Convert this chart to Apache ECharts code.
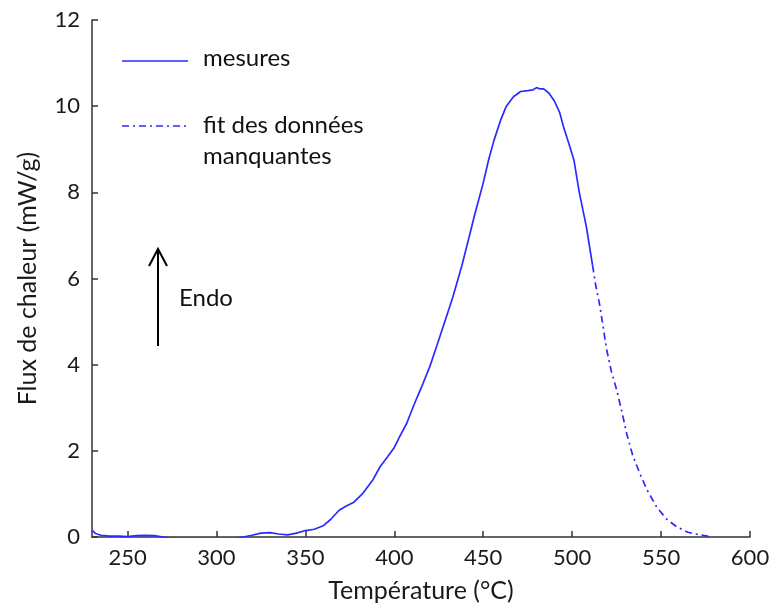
<!DOCTYPE html>
<html>
<head>
<meta charset="utf-8">
<script src="https://cdn.jsdelivr.net/npm/echarts@6/dist/echarts.min.js"></script>
<style>html,body{margin:0;padding:0;background:#fff}#c{width:778px;height:608px}</style>
</head>
<body>
<div id="c"></div>
<script>
// Temperature (°C) and heat flux (mW/g) — measured part
const measuredT = [230,232,235,240,245,250,255,260,265,270,275,280,290,300,310,315,320,325,330,335,340,345,350,355,360,364,369,373,377,382,388,392,396,400,403,407,410,413,416,420,424,428,433,438,442,445,450,453,456,460,463,467,471,475,478,480,482,484,487,490,493,495,498,501,504,508,511.5];
const measuredFlux = [0.16,0.08,0.04,0.02,0.02,0.01,0.03,0.04,0.03,0.0,-0.03,-0.03,-0.03,-0.03,-0.03,0.0,0.04,0.09,0.10,0.07,0.05,0.09,0.15,0.18,0.26,0.40,0.62,0.72,0.80,1.00,1.33,1.63,1.85,2.08,2.33,2.64,2.96,3.26,3.55,3.96,4.45,4.95,5.58,6.30,6.95,7.45,8.22,8.75,9.20,9.70,10.00,10.22,10.34,10.36,10.38,10.43,10.40,10.40,10.30,10.12,9.85,9.54,9.15,8.75,8.00,7.20,6.30];
// fitted part (missing data)
const fitT = [511.5,513,515.6,519.4,522,525,528,530.6,534,538,542,547.5,553,558.7,565,571.8,577.5];
const fitFlux = [6.30,5.90,5.36,4.35,3.85,3.42,2.90,2.41,1.90,1.48,1.10,0.70,0.42,0.24,0.11,0.05,0.01];
const xTicks = [250,300,350,400,450,500,550,600];
const yTicks = [0,2,4,6,8,10,12];
const seriesNames = ['mesures','fit des données manquantes'];

const FONT = 'Lato';
const LINE_COLOR = '#2b2bff';
const DASH = [7,4,2,4];

const chart = echarts.init(document.getElementById('c'), null, {renderer:'canvas'});
chart.setOption({
  animation:false,
  backgroundColor:'#fff',
  grid:{left:92,right:28,top:20,bottom:71,containLabel:false},
  xAxis:{
    type:'value',min:230,max:600,
    name:'Température (°C)',nameLocation:'middle',nameGap:41,
    nameTextStyle:{fontFamily:FONT,fontSize:25,color:'#1a1a1a'},
    axisLine:{show:true,lineStyle:{color:'#333',width:1.5}},
    axisTick:{show:true,inside:true,length:6,lineStyle:{color:'#333',width:1.5},customValues:xTicks},
    axisLabel:{fontFamily:FONT,fontSize:22,color:'#1a1a1a',margin:10,customValues:xTicks},
    splitLine:{show:false}
  },
  yAxis:{
    type:'value',min:0,max:12,interval:2,
    name:'Flux de chaleur (mW/g)',nameLocation:'middle',nameGap:52,
    nameTextStyle:{fontFamily:FONT,fontSize:25,color:'#1a1a1a'},
    axisLine:{show:true,lineStyle:{color:'#333',width:1.5}},
    axisTick:{show:true,inside:true,length:6,lineStyle:{color:'#333',width:1.5}},
    axisLabel:{fontFamily:FONT,fontSize:22,color:'#1a1a1a',margin:12},
    splitLine:{show:false}
  },
  series:[
    {name:seriesNames[0],type:'line',showSymbol:false,clip:true,smooth:false,
     lineStyle:{color:LINE_COLOR,width:1.7},
     data:measuredT.map((t,i)=>[t,measuredFlux[i]])},
    {name:seriesNames[1],type:'line',showSymbol:false,clip:true,smooth:false,
     lineStyle:{color:LINE_COLOR,width:1.7,type:DASH},
     data:fitT.map((t,i)=>[t,fitFlux[i]])}
  ],
  graphic:[
    {type:'line',shape:{x1:122,y1:61,x2:188,y2:61},style:{stroke:LINE_COLOR,lineWidth:1.7}},
    {type:'text',left:203,top:46,style:{text:'mesures',font:'24px '+FONT,fill:'#111'}},
    {type:'line',shape:{x1:122,y1:126,x2:188,y2:126},style:{stroke:LINE_COLOR,lineWidth:1.7,lineDash:DASH}},
    {type:'text',left:203,top:110,style:{text:'fit des données\nmanquantes',font:'24px '+FONT,fill:'#111',lineHeight:31}},
    {type:'line',shape:{x1:158,y1:346,x2:158,y2:250},style:{stroke:'#000',lineWidth:2}},
    {type:'polyline',shape:{points:[[149,266],[158,249],[167,266]]},style:{stroke:'#000',lineWidth:2,fill:null}},
    {type:'text',left:179,top:286,style:{text:'Endo',font:'24px '+FONT,fill:'#111'}}
  ]
});
</script>
</body>
</html>
